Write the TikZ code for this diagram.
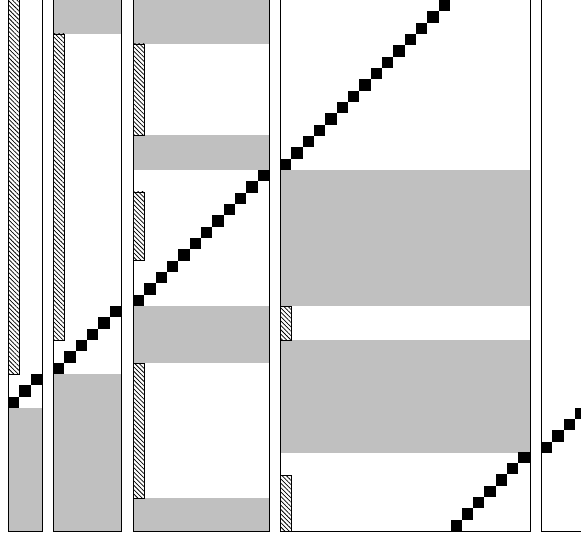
\documentclass[tikz,border=0pt]{standalone}
\usetikzlibrary{patterns.meta}
\definecolor{shade}{HTML}{C0C0C0}
\tikzset{
  shadebox/.style={fill=shade, draw=none},
  hatchbox/.style={draw=black, line width=0.8pt, fill=white,
    pattern={Lines[angle=-45, distance=3.1pt, line width=0.75pt]}},
  panelbox/.style={draw=black, line width=0.8pt},
  sq/.style={fill=black, draw=none}
}
\newcommand{\stair}[4]{% x0, y0 (bottom-left of first square), count, size
  \foreach \i in {0,...,\numexpr#3-1\relax}{
    \fill[sq] ({#1+\i*#4},{#2-\i*#4}) rectangle ++(#4,-#4);
  }
}
\begin{document}
\begin{tikzpicture}[x=1pt,y=-1pt]
\useasboundingbox (0,0) rectangle (581,540);
\begin{scope}
\clip (0,0) rectangle (581,540);
\def\s{11.33}
% panel 1
\fill[shadebox] (8,408) rectangle (42,531);
\fill[white] (8,-5) rectangle (19.3,374);
\fill[hatchbox] (8,-5) rectangle (19.3,374);
\stair{8}{408}{3}{\s}
\draw[panelbox] (8,-5) -- (8,531) -- (42,531) -- (42,-5);
% panel 2
\fill[shadebox] (53,-5) rectangle (121,34);
\fill[shadebox] (53,374) rectangle (121,531);
\fill[white] (53,34) rectangle (64.3,340);
\fill[hatchbox] (53,34) rectangle (64.3,340);
\stair{53}{374}{6}{\s}
\draw[panelbox] (53,-5) -- (53,531) -- (121,531) -- (121,-5);
% panel 3
\fill[shadebox] (133,-5) rectangle (269,44);
\fill[shadebox] (133,135) rectangle (269,170);
\fill[shadebox] (133,306) rectangle (269,363);
\fill[shadebox] (133,498) rectangle (269,531);
\foreach \a/\b in {44/135, 192/260, 363/498}{
  \fill[white] (133,\a) rectangle (144.3,\b);
  \fill[hatchbox] (133,\a) rectangle (144.3,\b);
}
\stair{133}{306}{12}{\s}
\draw[panelbox] (133,-5) -- (133,531) -- (269,531) -- (269,-5);
% panel 4
\fill[shadebox] (280,170) rectangle (530,306);
\fill[shadebox] (280,340) rectangle (530,453);
\foreach \a/\b in {306/340, 475/531}{
  \fill[white] (280,\a) rectangle (291.3,\b);
  \fill[hatchbox] (280,\a) rectangle (291.3,\b);
}
\stair{280}{170}{17}{\s}
\stair{450.5}{531}{7}{\s}
\draw[panelbox] (280,-5) -- (280,531) -- (530,531) -- (530,-5);
% panel 5
\stair{541}{453}{6}{\s}
\draw[panelbox] (541,-5) -- (541,531) -- (600,531);
\end{scope}
\end{tikzpicture}
\end{document}
